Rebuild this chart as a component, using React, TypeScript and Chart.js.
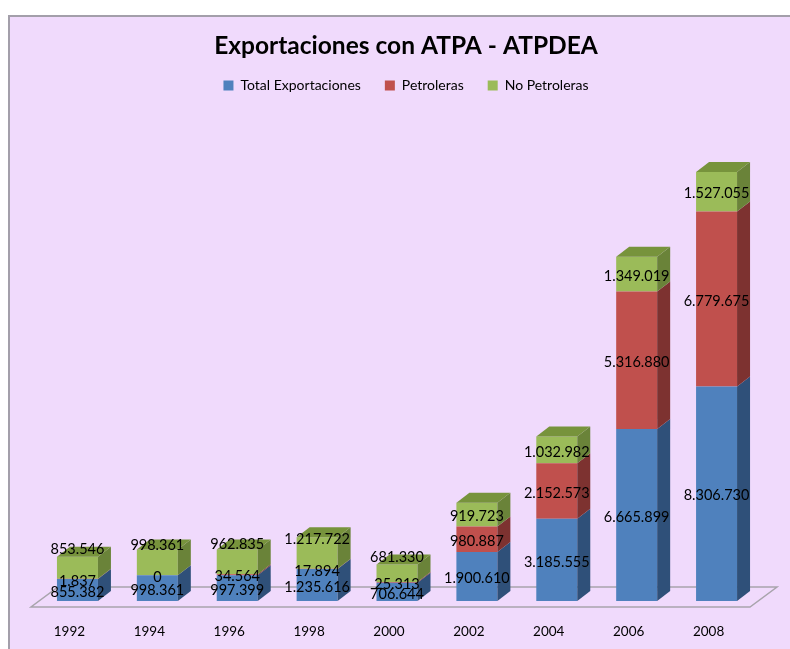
import { useEffect, useRef } from 'react';
import { Chart, registerables } from 'chart.js';

Chart.register(...registerables);

const years = ['1992', '1994', '1996', '1998', '2000', '2002', '2004', '2006', '2008'];
const totalExportaciones = [855382, 998361, 997399, 1235616, 706644, 1900610, 3185555, 6665899, 8306730];
const petroleras = [1837, 0, 34564, 17894, 25313, 980887, 2152573, 5316880, 6779675];
const noPetroleras = [853546, 998361, 962835, 1217722, 681330, 919723, 1032982, 1349019, 1527055];
const seriesNames = ['Total Exportaciones', 'Petroleras', 'No Petroleras'];
const titleText = 'Exportaciones con ATPA - ATPDEA';

const frontColors = ['#4F81BD', '#C0504D', '#9BBB59'];
const sideColors = ['#2F5079', '#7D3230', '#6A8339'];
const topColors = ['#3E6698', '#9A3E3B', '#77933C'];

const PX_PER_UNIT = 25.82e-6;
const DX = 13;
const DY = -10;
const LABEL_DROP = 2;
const GAP_TRIGGER = 20;
const SPREAD = 32;
const TOP_LIFT = 7;

const fmt = (v: number) => String(v).replace(/\B(?=(\d{3})+(?!\d))/g, '.');

const scalePlugin = {
  id: 'fixedScale',
  afterLayout(chart: any) {
    const y = chart.scales.y;
    y.min = 0;
    y.max = (y.bottom - y.top) / PX_PER_UNIT;
    y.configure();
  },
};

const floorPlugin = {
  id: 'floor3d',
  beforeDatasetsDraw(chart: any) {
    const { ctx, chartArea: a } = chart;
    const base = chart.scales.y.getPixelForValue(0);
    ctx.save();
    ctx.beginPath();
    ctx.moveTo(a.left - 6.5, base + 6);
    ctx.lineTo(a.right - 6.5, base + 6);
    ctx.lineTo(a.right + 20.5, base - 14);
    ctx.lineTo(a.left + 20.5, base - 14);
    ctx.closePath();
    ctx.strokeStyle = '#A8A4AC';
    ctx.lineWidth = 1.5;
    ctx.stroke();
    ctx.restore();
  },
};

const barsPlugin = {
  id: 'bars3d',
  afterDatasetsDraw(chart: any) {
    const ctx = chart.ctx;
    const n = chart.data.labels.length;
    const metas = chart.data.datasets.map((_: any, d: number) => chart.getDatasetMeta(d));
    ctx.save();
    for (let i = 0; i < n; i++) {
      let topIdx = -1;
      let topY = Infinity;
      metas.forEach((meta: any, d: number) => {
        const el = meta.data[i];
        const right = el.x + el.width / 2;
        const top = Math.min(el.y, el.base);
        const bottom = Math.max(el.y, el.base);
        if (bottom - top > 0.01) {
          ctx.fillStyle = sideColors[d];
          ctx.beginPath();
          ctx.moveTo(right, top);
          ctx.lineTo(right + DX, top + DY);
          ctx.lineTo(right + DX, bottom + DY);
          ctx.lineTo(right, bottom);
          ctx.closePath();
          ctx.fill();
          if (top < topY) {
            topY = top;
            topIdx = d;
          }
        }
      });
      if (topIdx >= 0) {
        const el = metas[topIdx].data[i];
        const left = el.x - el.width / 2;
        const right = el.x + el.width / 2;
        ctx.fillStyle = topColors[topIdx];
        ctx.beginPath();
        ctx.moveTo(left, topY);
        ctx.lineTo(left + DX, topY + DY);
        ctx.lineTo(right + DX, topY + DY);
        ctx.lineTo(right, topY);
        ctx.closePath();
        ctx.fill();
      }
    }

    ctx.font = '14.5px Lato';
    ctx.fillStyle = '#000';
    ctx.textAlign = 'center';
    ctx.textBaseline = 'middle';
    for (let i = 0; i < n; i++) {
      const pos = metas.map((meta: any) => {
        const el = meta.data[i];
        return { x: el.x, c: (el.y + el.base) / 2 + LABEL_DROP, top: Math.min(el.y, el.base) };
      });
      const last = pos.length - 1;
      if (pos[last - 1].c - pos[last].c < GAP_TRIGGER) {
        pos[last].c = Math.max(pos[last].top - TOP_LIFT, pos[last - 1].c - SPREAD);
      }
      pos.forEach((p: any, d: number) => {
        ctx.fillText(fmt(chart.data.datasets[d].data[i]), p.x, p.c);
      });
    }
    ctx.restore();
  },
};

export default function App() {
  const ref = useRef<HTMLCanvasElement>(null);
  useEffect(() => {
    Chart.defaults.font.family = 'Lato';
    Chart.defaults.color = '#000';
    const series = [totalExportaciones, petroleras, noPetroleras];
    const chart = new Chart(ref.current as HTMLCanvasElement, {
      type: 'bar',
      data: {
        labels: years,
        datasets: series.map((data, d) => ({
          label: seriesNames[d],
          data,
          backgroundColor: frontColors[d],
          borderWidth: 0,
          barPercentage: 0.513,
          categoryPercentage: 1,
        })),
      },
      options: {
        responsive: false,
        animation: false,
        layout: { padding: { left: 27.5, right: 15.5, top: 0, bottom: 0 } },
        plugins: {
          title: {
            display: true,
            text: titleText,
            color: '#000',
            font: { family: 'Lato', size: 24.5, weight: 'bold' },
            padding: { top: 14.3, bottom: -6.2 },
          },
          legend: {
            display: true,
            position: 'top',
            labels: {
              boxWidth: 10,
              boxHeight: 10,
              padding: 24,
              color: '#000',
              font: { family: 'Lato', size: 14 },
            },
          },
          tooltip: { enabled: false },
        },
        scales: {
          x: {
            stacked: true,
            grid: { display: false, drawTicks: false },
            border: { display: false },
            ticks: { padding: 22.9, labelOffset: -8, color: '#000', font: { family: 'Lato', size: 13.5 } },
            afterFit: (s: any) => {
              s.height = 48;
            },
          },
          y: {
            stacked: true,
            position: 'right',
            bounds: 'data',
            min: 0,
            grid: { display: false, drawTicks: false },
            border: { display: false },
            ticks: { display: false },
            afterFit: (s: any) => {
              s.width = 18;
            },
          },
        },
      } as any,
      plugins: [scalePlugin, floorPlugin, barsPlugin],
    });
    return () => chart.destroy();
  }, []);

  return (
    <div
      style={{
        position: 'absolute',
        left: 8,
        top: 15,
        width: 782,
        height: 634,
        boxSizing: 'border-box',
        borderTop: '2px solid #A39FAA',
        borderLeft: '2px solid #A39FAA',
        background: '#F0DAFC',
      }}
    >
      <canvas ref={ref} width={780} height={632} style={{ display: 'block' }} />
    </div>
  );
}
